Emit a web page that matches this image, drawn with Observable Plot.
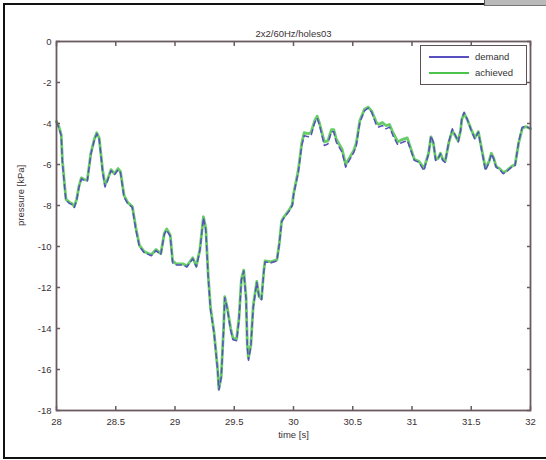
<!DOCTYPE html>
<html><head><meta charset="utf-8">
<script src="https://cdn.jsdelivr.net/npm/d3@7"></script>
<script src="https://cdn.jsdelivr.net/npm/@observablehq/plot@0.6"></script>
<style>
html,body{margin:0;padding:0;background:#fff;}
#wrap{position:relative;width:546px;height:460px;overflow:hidden;font-family:"Liberation Sans",Arial,sans-serif;}
.bd{position:absolute;background:#111;}
#legend{position:absolute;left:420px;top:45px;width:107px;height:40px;border:1.5px solid #5e4e56;background:#fff;box-sizing:border-box;font-size:9.5px;color:#333;}
#legend .row{position:absolute;left:8px;display:flex;align-items:center;}
#legend .sw{width:40px;height:0;border-top:2px solid;margin-right:6px;}
</style></head>
<body><div id="wrap"></div>
<script>
const title = "2x2/60Hz/holes03";
const xLabel = "time [s]";
const yLabel = "pressure [kPa]";
const xTicks = [28, 28.5, 29, 29.5, 30, 30.5, 31, 31.5, 32];
const yTicks = [0, -2, -4, -6, -8, -10, -12, -14, -16, -18];
const seriesNames = ["demand", "achieved"];
const seriesColors = ["#5a4fc0", "#4cc44c"];

const time = [28.00,28.02,28.04,28.05,28.07,28.08,28.11,28.13,28.15,28.17,28.19,28.21,28.24,28.26,28.29,28.32,28.34,28.36,28.39,28.41,28.43,28.46,28.49,28.52,28.54,28.57,28.60,28.64,28.67,28.70,28.74,28.80,28.84,28.88,28.91,28.93,28.96,28.98,29.01,29.03,29.07,29.10,29.15,29.18,29.21,29.24,29.26,29.28,29.30,29.33,29.36,29.37,29.39,29.41,29.42,29.44,29.47,29.49,29.52,29.54,29.56,29.58,29.60,29.61,29.62,29.64,29.66,29.69,29.71,29.73,29.75,29.76,29.81,29.86,29.88,29.90,29.92,29.96,29.99,30.00,30.04,30.07,30.09,30.13,30.15,30.18,30.20,30.22,30.26,30.29,30.32,30.34,30.36,30.41,30.44,30.47,30.51,30.53,30.56,30.60,30.63,30.66,30.70,30.72,30.75,30.78,30.81,30.84,30.88,30.91,30.96,31.00,31.02,31.06,31.10,31.14,31.16,31.18,31.20,31.22,31.24,31.26,31.28,31.31,31.34,31.36,31.39,31.41,31.42,31.44,31.47,31.50,31.53,31.56,31.58,31.62,31.65,31.67,31.69,31.71,31.74,31.77,31.80,31.84,31.87,31.90,31.93,31.96,32.00];

const demand = [-3.95,-4.2,-4.6,-5.9,-7.2,-7.75,-7.9,-7.95,-8.1,-7.75,-7.1,-6.7,-6.8,-6.8,-5.5,-4.8,-4.5,-4.75,-6.4,-7.1,-6.8,-6.3,-6.5,-6.25,-6.4,-7.6,-7.9,-8.1,-9.2,-10.0,-10.3,-10.45,-10.2,-10.4,-9.4,-9.2,-9.5,-10.8,-10.9,-10.9,-10.9,-11.0,-10.6,-11.0,-10.2,-8.6,-9.2,-11.5,-13.1,-14.25,-16.05,-17.0,-16.4,-14.1,-12.5,-13.0,-14.1,-14.55,-14.6,-13.6,-11.65,-11.2,-12.6,-14.9,-15.55,-14.9,-13.0,-11.75,-12.5,-12.6,-11.2,-10.75,-10.8,-10.7,-9.9,-8.8,-8.6,-8.3,-8.0,-7.5,-6.4,-5.07,-4.6,-4.65,-4.55,-3.94,-3.74,-4.1,-5.07,-5.0,-4.4,-4.4,-4.9,-5.4,-6.13,-5.8,-5.4,-5.07,-3.94,-3.37,-3.25,-3.45,-4.1,-4.18,-4.1,-4.26,-4.18,-4.6,-5.04,-4.94,-4.83,-5.48,-5.8,-5.9,-6.3,-5.48,-4.6,-4.9,-5.8,-5.73,-5.48,-5.8,-5.9,-4.9,-4.26,-4.5,-4.9,-4.34,-3.77,-3.45,-3.85,-4.34,-4.75,-4.42,-5.07,-6.3,-5.9,-5.48,-5.73,-6.13,-6.25,-6.45,-6.34,-6.13,-6.05,-4.9,-4.18,-4.13,-4.26];

const achieved = [-3.9,-4.15,-4.55,-5.8,-7.1,-7.7,-7.85,-7.9,-8.05,-7.7,-7.05,-6.65,-6.75,-6.75,-5.45,-4.75,-4.45,-4.7,-6.3,-7.0,-6.75,-6.25,-6.45,-6.2,-6.35,-7.5,-7.85,-8.05,-9.1,-9.95,-10.25,-10.4,-10.15,-10.35,-9.35,-9.15,-9.45,-10.7,-10.85,-10.85,-10.85,-10.95,-10.55,-10.95,-10.15,-8.55,-9.1,-11.4,-13.0,-14.2,-16.0,-16.95,-16.35,-14.0,-12.45,-12.95,-14.0,-14.5,-14.5,-13.5,-11.6,-11.15,-12.5,-14.8,-15.45,-14.8,-12.9,-11.7,-12.45,-12.55,-11.15,-10.7,-10.75,-10.65,-9.85,-8.75,-8.55,-8.25,-7.95,-7.45,-6.3,-4.95,-4.45,-4.5,-4.4,-3.85,-3.65,-4.0,-4.9,-4.85,-4.3,-4.3,-4.75,-5.25,-6.0,-5.7,-5.3,-4.95,-3.85,-3.3,-3.2,-3.4,-3.95,-4.05,-3.95,-4.1,-4.05,-4.45,-4.9,-4.8,-4.7,-5.4,-5.75,-5.85,-6.2,-5.45,-4.65,-4.95,-5.75,-5.7,-5.45,-5.75,-5.85,-4.95,-4.35,-4.55,-4.85,-4.35,-3.8,-3.5,-3.85,-4.3,-4.7,-4.4,-5.0,-6.2,-5.85,-5.45,-5.7,-6.1,-6.2,-6.4,-6.3,-6.1,-6.0,-4.95,-4.25,-4.15,-4.25];

const demandData = time.map((t, i) => ({t, v: demand[i]}));
const achievedData = time.map((t, i) => ({t, v: achieved[i]}));

const axisColor = "#6a5a62";
const textColor = "#3a3034";

const chart = Plot.plot({
  width: 546,
  height: 460,
  marginLeft: 56,
  marginRight: 16,
  marginTop: 41,
  marginBottom: 50,
  style: {fontFamily: "Liberation Sans, Arial, sans-serif", fontSize: "9.5px", color: textColor, background: "transparent"},
  x: {domain: [28, 32]},
  y: {domain: [-18, 0]},
  marks: [
    Plot.line(achievedData, {x: "t", y: "v", stroke: seriesColors[1], strokeWidth: 2.8, strokeOpacity: 0.85}),
    Plot.line(demandData, {x: "t", y: "v", stroke: seriesColors[0], strokeWidth: 1.5, strokeDasharray: "5,4"}),
    Plot.frame({stroke: axisColor, strokeWidth: 1.8}),
    Plot.axisX({anchor: "bottom", ticks: xTicks, tickSize: -4, tickPadding: 12, stroke: axisColor, strokeWidth: 1.5, fill: textColor, label: null, tickFormat: d => String(d)}),
    Plot.axisX({anchor: "top", ticks: xTicks, tickSize: -4, tickPadding: 0, stroke: axisColor, strokeWidth: 1.5, label: null, tickFormat: () => ""}),
    Plot.axisY({anchor: "left", ticks: yTicks, tickSize: -4, tickPadding: 9, stroke: axisColor, strokeWidth: 1.5, fill: textColor, label: null, tickFormat: d => String(d)}),
    Plot.axisY({anchor: "right", ticks: yTicks, tickSize: -4, tickPadding: 0, stroke: axisColor, strokeWidth: 1.5, label: null, tickFormat: () => ""}),
    Plot.text([title], {frameAnchor: "top", dy: -11, fill: textColor, fontSize: 9.5}),
    Plot.text([xLabel], {frameAnchor: "bottom", dy: 27, fill: textColor, fontSize: 9.5}),
    Plot.text([yLabel], {frameAnchor: "left", dx: -36, rotate: -90, fill: textColor, fontSize: 9.5})
  ]
});

const wrap = document.getElementById("wrap");
wrap.appendChild(chart);
chart.style.position = "absolute";
chart.style.left = "0px";
chart.style.top = "0px";

// outer frame of the picture
[["3px","3px","2px","456px"],["3px","3px","481px","2px"],["3px","457px","543px","2px"]].forEach(([l,t,w,h]) => {
  const d = document.createElement("div");
  d.className = "bd"; d.style.left = l; d.style.top = t; d.style.width = w; d.style.height = h;
  wrap.appendChild(d);
});
const corner = document.createElement("div");
corner.style.cssText = "position:absolute;left:484px;top:0;width:62px;height:5px;background:#b9b9b9;border-left:1px solid #555;border-bottom:1px solid #777;";
wrap.appendChild(corner);

// legend
const lg = document.createElement("div");
lg.id = "legend";
seriesNames.forEach((name, i) => {
  const r = document.createElement("div");
  r.className = "row";
  r.style.top = (5 + i * 16) + "px";
  const sw = document.createElement("span");
  sw.className = "sw"; sw.style.borderTopColor = seriesColors[i];
  const tx = document.createElement("span");
  tx.textContent = name;
  r.appendChild(sw); r.appendChild(tx);
  lg.appendChild(r);
});
wrap.appendChild(lg);
</script>
</body></html>
